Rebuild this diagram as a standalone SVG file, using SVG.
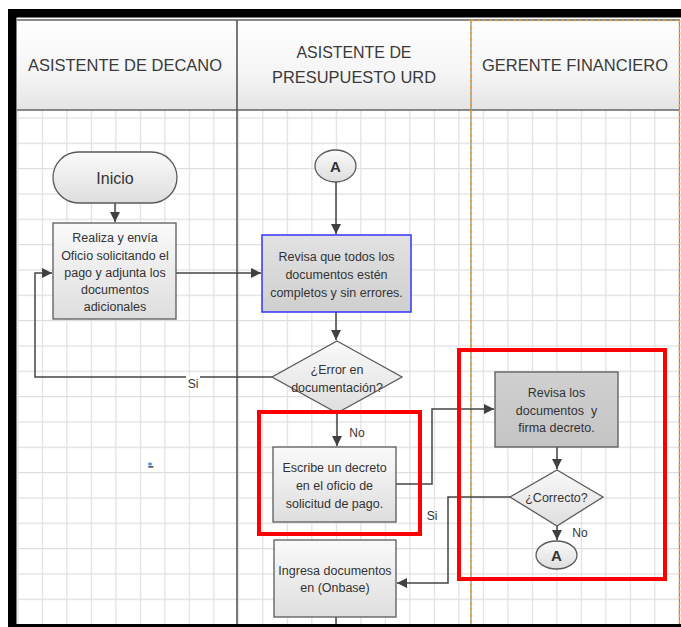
<svg xmlns="http://www.w3.org/2000/svg" width="681" height="627" viewBox="0 0 681 627">
<defs>
<style>
.t{font-family:"Liberation Sans",Arial,sans-serif;fill:#333;text-anchor:middle}
.b{font-size:12.5px}
.h{font-size:17px;fill:#3a3a3a}
.box{stroke:#5a5a5a;stroke-width:1.3}
.c{fill:none;stroke:#454545;stroke-width:1.5}
.red{fill:none;stroke:#ff0000;stroke-width:4}
.lbl{font-size:12px}
</style>
<linearGradient id="gh" x1="0" y1="0" x2="0" y2="1"><stop offset="0" stop-color="#ffffff"/><stop offset="0.6" stop-color="#f5f5f5"/><stop offset="1" stop-color="#e4e4e4"/></linearGradient>
<linearGradient id="gl" x1="0" y1="0" x2="0" y2="1"><stop offset="0" stop-color="#fafafa"/><stop offset="1" stop-color="#dedede"/></linearGradient>
<linearGradient id="gm" x1="0" y1="0" x2="0" y2="1"><stop offset="0" stop-color="#e2e2e2"/><stop offset="1" stop-color="#cfcfcf"/></linearGradient>
<linearGradient id="gd" x1="0" y1="0" x2="0" y2="1"><stop offset="0" stop-color="#d0d0d0"/><stop offset="1" stop-color="#c4c4c4"/></linearGradient>
<pattern id="grid" patternUnits="userSpaceOnUse" x="17.3" y="117.4" width="24.5" height="25.33">
<path d="M0.5 0V25.33M0 0.5H24.5" stroke="#dedede" stroke-width="1.3" fill="none"/>
</pattern>
<marker id="ar" markerUnits="userSpaceOnUse" markerWidth="11" markerHeight="10" refX="10" refY="5" orient="auto">
<path d="M0,0 L10,5 L0,10 z" fill="#404040"/>
</marker>
</defs>

<!-- background / frame -->
<rect x="0" y="0" width="681" height="627" fill="#ffffff"/>
<rect x="17" y="110" width="663" height="514" fill="url(#grid)"/>
<rect x="17" y="20" width="663" height="90" fill="url(#gh)"/>
<path d="M17 20H680M17 110H680" stroke="#666" stroke-width="1.5" fill="none"/>
<path d="M237 20V624" stroke="#4d4d4d" stroke-width="1.5"/>
<path d="M471 20V624M679.5 20V624" stroke="#888" stroke-width="1.2"/>
<path d="M471 20V624M679.5 20V624M471 20.5H680" stroke="#f0a020" stroke-width="1.5" stroke-dasharray="3,3" fill="none"/>
<rect x="8" y="9" width="673" height="8.5" fill="#000"/>
<rect x="8" y="9" width="8.5" height="618" fill="#000"/>
<rect x="8" y="624" width="673" height="3" fill="#000"/>

<!-- headers -->
<g id="lane1"><text class="t h" x="125" y="71" textLength="194" lengthAdjust="spacingAndGlyphs">ASISTENTE DE DECANO</text></g>
<g id="lane2"><text class="t h" x="354" y="58" textLength="115" lengthAdjust="spacingAndGlyphs">ASISTENTE DE</text><text class="t h" x="354" y="83" textLength="164" lengthAdjust="spacingAndGlyphs">PRESUPUESTO URD</text></g>
<g id="lane3"><text class="t h" x="575" y="71" textLength="186" lengthAdjust="spacingAndGlyphs">GERENTE FINANCIERO</text></g>

<!-- connectors -->
<g id="connectors">
<path class="c" d="M115 203V222" marker-end="url(#ar)"/>
<path class="c" d="M176 273H261" marker-end="url(#ar)"/>
<path class="c" d="M336 182V234" marker-end="url(#ar)"/>
<path class="c" d="M336 312V340" marker-end="url(#ar)"/>
<path class="c" d="M272 377H35V273H52" marker-end="url(#ar)"/>
<path class="c" d="M337 413V446" marker-end="url(#ar)"/>
<path class="c" d="M396 484H432V409H494" marker-end="url(#ar)"/>
<path class="c" d="M557 447V469" marker-end="url(#ar)"/>
<path class="c" d="M510 497H448V583H397" marker-end="url(#ar)"/>
<path class="c" d="M557 526V540" marker-end="url(#ar)"/>
<path class="c" d="M336 617V624"/>
<rect x="186" y="376" width="14" height="14" fill="#ffffff"/>
<text class="t lbl" x="193" y="388">Si</text>
<text class="t lbl" x="357" y="437">No</text>
<text class="t lbl" x="432" y="520">Si</text>
<text class="t lbl" x="580" y="537">No</text>
</g>

<!-- nodes -->
<g id="inicio">
<rect class="box" x="53" y="152" width="124" height="51" rx="25.5" fill="url(#gl)"/>
<text class="t" x="115" y="183.5" font-size="16">Inicio</text>
</g>
<g id="realiza">
<rect class="box" x="53" y="223" width="123" height="96" fill="url(#gl)"/>
<text class="t b" x="115" y="241.5">Realiza y envía</text>
<text class="t b" x="115" y="259.5">Oficio solicitando el</text>
<text class="t b" x="115" y="276.5">pago y adjunta los</text>
<text class="t b" x="115" y="293.5">documentos</text>
<text class="t b" x="115" y="310.5">adicionales</text>
</g>
<g id="conA1">
<ellipse class="box" cx="335.5" cy="166" rx="20.5" ry="16" fill="url(#gl)"/>
<text class="t" x="335.5" y="171.5" font-size="15" font-weight="bold" fill="#222">A</text>
</g>
<g id="revisa">
<rect x="262" y="235" width="149" height="77" fill="url(#gm)" stroke="#3333ff" stroke-width="1.5"/>
<text class="t b" x="336.5" y="260.5">Revisa que todos los</text>
<text class="t b" x="336.5" y="278.5">documentos estén</text>
<text class="t b" x="336.5" y="296.5">completos y sin errores.</text>
</g>
<g id="error">
<polygon class="box" points="337,341 402,377 337,413 272,377" fill="url(#gl)"/>
<text class="t b" x="337" y="373.5">¿Error en</text>
<text class="t b" x="337" y="391.5">documentación?</text>
</g>
<g id="escribe">
<rect class="box" x="273" y="447" width="123" height="75" fill="url(#gl)"/>
<text class="t b" x="334.5" y="471.5">Escribe un decreto</text>
<text class="t b" x="334.5" y="489.5">en el oficio de</text>
<text class="t b" x="334.5" y="507.5">solicitud de pago.</text>
</g>
<g id="ingresa">
<rect class="box" x="274" y="540" width="122" height="77" fill="url(#gl)"/>
<text class="t b" x="335" y="574.5">Ingresa documentos</text>
<text class="t b" x="335" y="591.5">en (Onbase)</text>
</g>
<g id="firma">
<rect class="box" x="495" y="372" width="123" height="75" fill="url(#gd)"/>
<text class="t b" x="556.5" y="396.5">Revisa los</text>
<text class="t b" x="556.5" y="414.5" style="white-space:pre">documentos  y</text>
<text class="t b" x="556.5" y="431.5">firma decreto.</text>
</g>
<g id="correcto">
<polygon class="box" points="557,470 603,497 557,526 510,497" fill="url(#gl)"/>
<text class="t b" x="556.5" y="501.5">¿Correcto?</text>
</g>
<g id="conA2">
<ellipse class="box" cx="556.5" cy="555" rx="20.5" ry="14" fill="url(#gl)"/>
<text class="t" x="556.5" y="560.5" font-size="15" font-weight="bold" fill="#222">A</text>
</g>

<!-- highlights -->
<rect class="red" x="259" y="412" width="161" height="122"/>
<rect class="red" x="459" y="350" width="206" height="229"/>
<rect x="148.3" y="462.7" width="3.4" height="2.6" fill="#3a8ee6"/>
<rect x="148.3" y="466" width="5" height="1.7" fill="#555"/>
</svg>
